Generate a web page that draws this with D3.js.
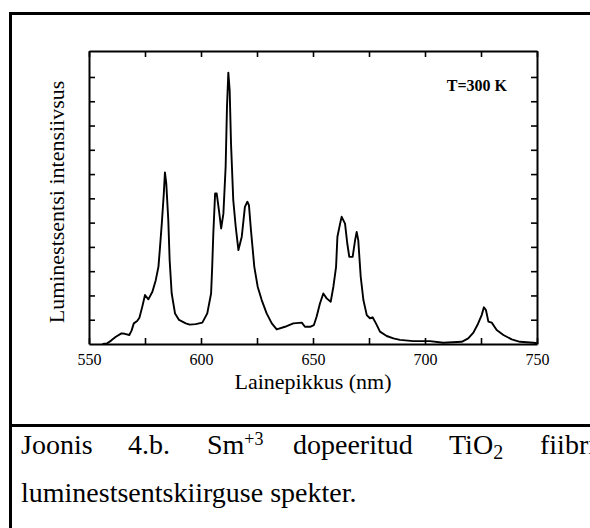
<!DOCTYPE html>
<html>
<head>
<meta charset="utf-8">
<script src="https://cdn.jsdelivr.net/npm/d3@7"></script>
<style>
  body { margin: 0; background: #fff; }
  text { font-family: "Liberation Serif", "Times New Roman", serif; fill: #000; }
</style>
</head>
<body>
<div class="chart"></div>
<script>
const WIDTH = 590;
const HEIGHT = 528;

const PLOT_LEFT = 89;
const PLOT_RIGHT = 537;
const PLOT_TOP = 51;
const PLOT_BOTTOM = 344;

// Sm+3 luminescence spectrum
var wavelength = [556, 558, 560, 562, 564.5, 566, 568, 569, 570, 571.5, 572.5, 573.8, 575, 576.5, 578.3, 579.8,
    581, 581.6, 582.5, 583.4, 583.9, 584.5, 585.4, 586, 586.9, 588.4, 590.2, 593.2, 595, 597.6, 600.6, 602.8,
    604.5, 605, 605.5, 606.3, 607, 608, 609, 610, 611, 611.6, 612.2, 612.8, 613.4, 614.4, 615.5, 616.7,
    618.2, 619.6, 620.7, 621.4, 622.3, 623.8, 625.3, 627.1, 629.3, 631.6, 633.8, 637.5, 641.2, 645,
    646.4, 648.7, 650.4, 651.6, 653.1, 654.6, 656.1, 657.9, 659.1, 660.3, 660.9, 662.1, 662.8, 664.3,
    665.3, 666.2, 667.7, 668.8, 669.5, 670.2, 671.3, 672.5, 674, 675.4, 676.6, 678.1, 679.9, 682.9,
    685.9, 688.8, 694.8, 702.2, 708.2, 716.4, 719.3, 721.6, 723.4, 725.3, 726.3, 727.2, 728.3, 729.8,
    732, 735, 738.7, 742.4, 748.4, 750];
var intensity = [0, 0.02, 0.15, 0.3, 0.44, 0.42, 0.37, 0.55, 0.85, 0.95, 1.08, 1.54, 2.02, 1.84, 2.15, 2.63,
    3.18, 3.87, 4.97, 6.2, 7.07, 6.61, 5.1, 3.46, 2.09, 1.26, 0.99, 0.85, 0.8, 0.82, 0.88, 1.26,
    2.08, 3.18, 4.55, 6.2, 6.2, 5.51, 4.76, 5.37, 7.3, 9.77, 11.18, 10.45, 8.26, 5.93, 4.83, 3.87,
    4.42, 5.65, 5.86, 5.72, 4.69, 3.18, 2.36, 1.81, 1.26, 0.85, 0.6, 0.71, 0.85, 0.88,
    0.71, 0.71, 0.78, 1.12, 1.67, 2.08, 1.88, 1.74, 2.36, 3.18, 4.42, 4.96, 5.24, 4.96,
    4.14, 3.59, 3.59, 4.28, 4.62, 4.28, 2.77, 1.81, 1.19, 1.06, 1.1, 0.85, 0.51, 0.33,
    0.23, 0.17, 0.12, 0.12, 0.05, 0.09, 0.23, 0.47, 0.78, 1.19, 1.51, 1.4, 0.92, 0.88,
    0.58, 0.37, 0.19, 0.09, 0.05, 0.03];

var xTickValues = [550, 575, 600, 625, 650, 675, 700, 725, 750];
var xTickLabels = [550, 600, 650, 700, 750];
var yTickValues = [1, 2, 3, 4, 5, 6, 7, 8, 9, 10, 11];
var yMax = 12.07;

var translate = function (x, y) {
    return "translate(" + x + "," + y + ")";
};

var svg = d3.select('.chart').append('svg')
    .attr('width', WIDTH)
    .attr('height', HEIGHT)
    .style('display', 'block');

// page frame
svg.append('line').attr('x1', 9).attr('x2', WIDTH).attr('y1', 13.5).attr('y2', 13.5)
    .attr('stroke', '#000').attr('stroke-width', 3);
svg.append('line').attr('x1', 10.5).attr('x2', 10.5).attr('y1', 12).attr('y2', HEIGHT)
    .attr('stroke', '#000').attr('stroke-width', 3);
svg.append('line').attr('x1', 9).attr('x2', WIDTH).attr('y1', 425.5).attr('y2', 425.5)
    .attr('stroke', '#000').attr('stroke-width', 3);

var xScale = d3.scaleLinear().domain([550, 750]).range([PLOT_LEFT, PLOT_RIGHT]);
var yScale = d3.scaleLinear().domain([0, yMax]).range([PLOT_BOTTOM, PLOT_TOP]);

var fmtX = function (d) { return xTickLabels.indexOf(d) >= 0 ? d : ""; };

var axes = [
    { axis: d3.axisBottom(xScale).tickValues(xTickValues).tickFormat(fmtX).tickPadding(10), pos: translate(0, PLOT_BOTTOM) },
    { axis: d3.axisTop(xScale).tickValues(xTickValues).tickFormat(""), pos: translate(0, PLOT_TOP) },
    { axis: d3.axisLeft(yScale).tickValues(yTickValues).tickFormat(""), pos: translate(PLOT_LEFT, 0) },
    { axis: d3.axisRight(yScale).tickValues(yTickValues).tickFormat(""), pos: translate(PLOT_RIGHT, 0) }
];

axes.forEach(function (a) {
    var g = svg.append('g')
        .attr('transform', a.pos)
        .call(a.axis.tickSizeInner(-6).tickSizeOuter(0));
    g.select('.domain').attr('stroke-width', 2).attr('stroke', '#000');
    g.selectAll('.tick line').attr('stroke-width', 1.6).attr('stroke', '#000');
    g.selectAll('.tick text')
        .style('font-family', '"Liberation Serif", serif')
        .style('font-size', '16px')
        .attr('fill', '#000');
});

var points = wavelength.map(function (w, i) { return { x: w, y: intensity[i] }; });

var line = d3.line()
    .x(function (q) { return xScale(q.x); })
    .y(function (q) { return yScale(q.y); });

svg.append('path')
    .attr('d', line(points))
    .attr('fill', 'none')
    .attr('stroke', '#000')
    .attr('stroke-width', 1.9)
    .attr('stroke-linejoin', 'round');

// labels
svg.append('text')
    .attr('x', (PLOT_LEFT + PLOT_RIGHT) / 2)
    .attr('y', 389)
    .attr('text-anchor', 'middle')
    .style('font-size', '22px')
    .text('Lainepikkus (nm)');

svg.append('text')
    .attr('transform', translate(64, 202) + ' rotate(-90)')
    .attr('text-anchor', 'middle')
    .style('font-size', '22px')
    .text('Luminestsentsi intensiivsus');

svg.append('text')
    .attr('x', 507)
    .attr('y', 91)
    .attr('text-anchor', 'end')
    .style('font-size', '16px')
    .style('font-weight', 'bold')
    .text('T=300 K');

// caption (justified line, so words placed one by one)
var cap = svg.append('g').style('font-size', '28px');
cap.append('text').attr('x', 21).attr('y', 454).text('Joonis');
cap.append('text').attr('x', 128).attr('y', 454).text('4.b.');
var sm = cap.append('text').attr('x', 207).attr('y', 454).text('Sm');
sm.append('tspan').attr('dy', -9).style('font-size', '18px').text('+3');
cap.append('text').attr('x', 293).attr('y', 454).text('dopeeritud');
var tio = cap.append('text').attr('x', 449).attr('y', 454).text('TiO');
tio.append('tspan').attr('dy', 5).style('font-size', '20px').text('2');
cap.append('text').attr('x', 540).attr('y', 454).text('fiibrite');
cap.append('text').attr('x', 21).attr('y', 502).text('luminestsentskiirguse spekter.');
</script>
</body>
</html>
